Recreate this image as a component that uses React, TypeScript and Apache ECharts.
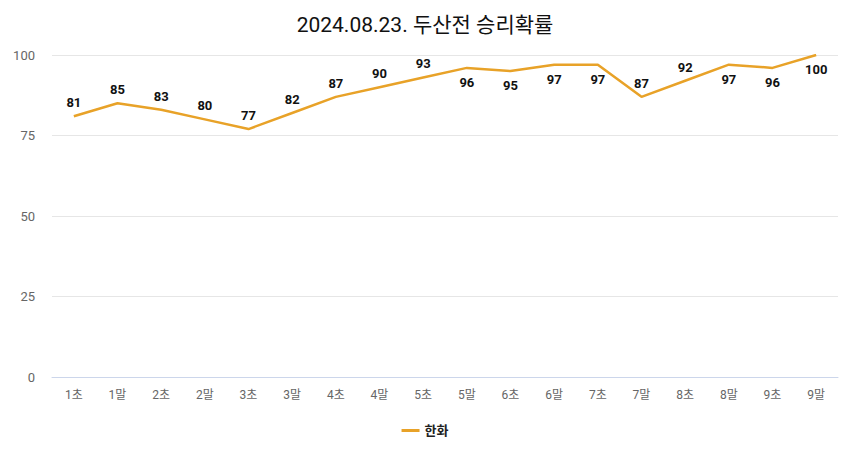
import React, { useEffect, useRef } from "react";
import * as echarts from "echarts";

const categories = ["1초", "1말", "2초", "2말", "3초", "3말", "4초", "4말", "5초", "5말", "6초", "6말", "7초", "7말", "8초", "8말", "9초", "9말"];
const values = [81, 85, 83, 80, 77, 82, 87, 90, 93, 96, 95, 97, 97, 87, 92, 97, 96, 100];
const labelPositions = ["top", "top", "top", "top", "top", "top", "top", "top", "top", "bottom", "bottom", "bottom", "bottom", "top", "top", "bottom", "bottom", "bottom"];
const yTicks = [0, 25, 50, 75, 100];
const seriesName = "한화";
const titleText = "2024.08.23. 두산전 승리확률";

const FONT = "Roboto, 'Noto Sans CJK KR', sans-serif";

export default function App() {
  const ref = useRef<HTMLDivElement>(null);
  useEffect(() => {
    if (!ref.current) return;
    const chart = echarts.init(ref.current, null, { renderer: "svg" });
    chart.setOption({
      animation: false,
      backgroundColor: "#ffffff",
      textStyle: { fontFamily: FONT },
      title: {
        text: titleText,
        left: "center",
        top: 9,
        textStyle: { fontFamily: FONT, fontSize: 21, fontWeight: "normal", color: "#111" },
      },
      legend: {
        bottom: 23,
        left: "center",
        itemWidth: 18,
        itemHeight: 3,
        icon: "rect",
        textStyle: { fontFamily: FONT, fontSize: 13, fontWeight: "bold", color: "#222" },
        data: [seriesName],
      },
      grid: { left: 52, right: 12, top: 55, bottom: 88, containLabel: false },
      xAxis: {
        type: "category",
        data: categories,
        boundaryGap: true,
        axisLine: { show: true, lineStyle: { color: "#ccd6eb", width: 1 } },
        axisTick: { show: false },
        axisLabel: { color: "#666", fontSize: 12, margin: 12, fontFamily: FONT },
      },
      yAxis: {
        type: "value",
        min: yTicks[0],
        max: yTicks[yTicks.length - 1],
        interval: 25,
        axisLine: { show: false },
        axisTick: { show: false },
        axisLabel: { color: "#666", fontSize: 13, margin: 17, fontFamily: FONT },
        splitLine: { lineStyle: { color: "#e6e6e6", width: 1 } },
      },
      series: [
        {
          name: seriesName,
          type: "line",
          data: values.map((v, i) => ({
            value: v,
            label: { position: labelPositions[i], distance: labelPositions[i] === "top" ? 7 : 8 },
          })),
          showSymbol: true,
          symbol: "circle",
          symbolSize: 0.1,
          lineStyle: { color: "#E8A228", width: 2.5 },
          itemStyle: { color: "#E8A228" },
          label: {
            show: true,
            color: "#111",
            fontWeight: "bold",
            fontSize: 13,
            fontFamily: FONT,
          },
        },
      ],
    });
    return () => chart.dispose();
  }, []);
  return <div ref={ref} style={{ position: "absolute", left: 0, top: 0, width: 850, height: 465 }} />;
}
